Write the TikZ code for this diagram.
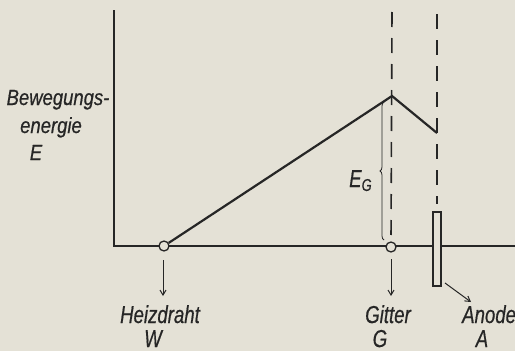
\documentclass[tikz,border=0pt]{standalone}
\usepackage{fontspec}
\usetikzlibrary{decorations.pathreplacing,arrows.meta}
\newfontfamily\lf[FakeStretch=0.76,FakeBold=0.5]{Liberation Sans}
\newfontfamily\lfw[FakeStretch=0.84,FakeBold=0.5]{Liberation Sans}
\definecolor{bg}{HTML}{E4E1D6}
\definecolor{ink}{HTML}{262626}
\begin{document}
\begin{tikzpicture}[x=1pt,y=-1pt,
  lbl/.style={font=\lf\itshape\fontsize{24.5}{24.5}\selectfont, text=ink, inner sep=0pt, anchor=base},
  lblw/.style={font=\lfw\itshape\fontsize{22}{22}\selectfont, text=ink, inner sep=0pt, anchor=base},
  axis/.style={draw=ink, line width=1.5pt},
  curve/.style={draw=ink, line width=2.2pt, line join=miter},
  dsh/.style={draw=ink, line width=1.6pt, dash pattern=on 15pt off 11pt},
  ring/.style={circle, draw=ink, line width=1.3pt, fill=bg, inner sep=0pt, minimum size=10pt},
  pointer/.style={draw=ink, line width=1pt, -{Straight Barb[length=5pt,width=6pt]}}]
\fill[bg] (0,0) rectangle (515,351);
\useasboundingbox (0,0) rectangle (515,351);
\coordinate (axtop) at (114,10);
\coordinate (orig) at (114,246);
\coordinate (bend) at (515,246);
\draw[axis] (axtop) -- (orig) -- (bend);
\coordinate (peak) at (392,96);
\coordinate (drop) at (437,133);
\coordinate (d1top) at (392,12);
\coordinate (d2top) at (437,14);
\coordinate (d2bot) at (437,204);
\node[ring] (W) at (164,246) {};
\node[ring] (G) at (391,247) {};
\draw[dsh] (d1top) -- (G.north);
\draw[dsh] (d2top) -- (d2bot);
\draw[curve] (W) -- (peak) -- (drop);
\node[draw=ink, line width=1.3pt, fill=bg, minimum width=8pt, minimum height=74pt, inner sep=0pt] (anode) at (437,249) {};
\coordinate (bt) at (384,102);
\coordinate (bb) at (384,240);
\draw[ink, line width=0.8pt, decoration={brace, amplitude=4pt, aspect=0.5}, decorate] (bb) -- (bt);
\node[lbl, anchor=base west] (EG) at (349,187) {E\raisebox{-0.3ex}{\fontsize{17}{17}\selectfont G}};
\coordinate (wa1) at (163,260);
\coordinate (wa2) at (163,296);
\coordinate (ga1) at (391,259);
\coordinate (ga2) at (391,296);
\coordinate (aa1) at (445,283);
\coordinate (aa2) at (471,302);
\draw[pointer] (wa1) -- (wa2);
\draw[pointer] (ga1) -- (ga2);
\draw[pointer] (aa1) -- (aa2);
\node[lbl] (hz) at (160,323) {Heizdraht};
\node[lbl] (hzW) at (153,347) {W};
\node[lbl] (gt) at (388,323) {Gitter};
\node[lbl] (gtG) at (380,347) {G};
\node[lbl, anchor=base west] (an) at (462,323) {Anode};
\node[lbl] (anA) at (482,347) {A};
\node[lblw] (bw) at (58,105) {Bewegungs-};
\node[lblw] (en) at (51,133) {energie};
\node[lblw] (ee) at (36,160) {E};
\end{tikzpicture}
\end{document}
